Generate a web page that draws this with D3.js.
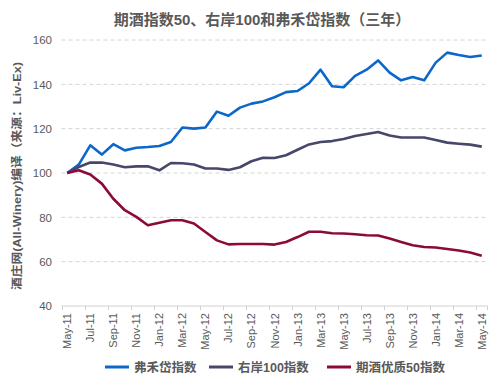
<!DOCTYPE html>
<html>
<head>
<meta charset="utf-8">
<script src="https://cdn.jsdelivr.net/npm/d3@7"></script>
<style>
  body { margin: 0; background: #fff; }
  text { font-family: "Liberation Sans", "Noto Sans CJK SC", sans-serif; }
</style>
</head>
<body>
<div id="chart"></div>
<script>
// months (category axis), one point per month
var months = ["May-11","Jun-11","Jul-11","Aug-11","Sep-11","Oct-11","Nov-11","Dec-11",
  "Jan-12","Feb-12","Mar-12","Apr-12","May-12","Jun-12","Jul-12","Aug-12","Sep-12","Oct-12","Nov-12","Dec-12",
  "Jan-13","Feb-13","Mar-13","Apr-13","May-13","Jun-13","Jul-13","Aug-13","Sep-13","Oct-13","Nov-13","Dec-13",
  "Jan-14","Feb-14","Mar-14","Apr-14","May-14"];

var bordeauxRegional = [100,103.8,112.5,108.3,113,110.2,111.4,111.7,112.2,114,120.5,120,120.5,127.7,125.8,129.5,131.3,132.3,134.2,
  136.5,137,140.5,146.6,139.1,138.7,143.8,146.6,150.8,145.3,141.8,143.3,141.8,149.8,154.3,153.2,152.3,153];
var rightBank100 = [100,102.7,104.7,104.7,103.8,102.6,103,103,101.2,104.5,104.4,103.8,102,102,101.4,102.6,105.3,106.9,106.8,
  108,110.5,112.9,114,114.4,115.3,116.7,117.6,118.5,116.9,116,116,116,114.9,113.7,113.2,112.8,111.9];
var fineWine50 = [100,101.2,99.3,95.2,88.4,83.2,80.2,76.4,77.6,78.7,78.7,77.2,73.4,69.6,67.8,68,68,68,67.7,
  68.9,71.1,73.5,73.5,72.8,72.7,72.4,71.9,71.8,70.5,68.9,67.4,66.6,66.4,65.7,65,64.1,62.7];

var seriesNames = ["弗禾岱指数", "右岸100指数", "期酒优质50指数"];
var seriesColors = ["#0b67c9", "#46476b", "#8c0a3b"];
var yTicks = [40, 60, 80, 100, 120, 140, 160];

var title = "期酒指数50、右岸100和弗禾岱指数（三年）";
var yTitle = "酒庄网(All-Winery)编译（来源：Liv-Ex)";

var W = 500, H = 384;
var svg = d3.select("#chart").append("svg")
  .attr("width", W).attr("height", H);

var x = d3.scaleBand().domain(months).range([61.5, 487.5]);
var y = d3.scaleLinear().domain([40, 160]).range([306, 40]);
var cx = function(i) { return x(months[i]) + x.bandwidth() / 2; };

// title
svg.append("text")
  .attr("x", 262).attr("y", 25)
  .attr("text-anchor", "middle")
  .style("font-size", "15px").style("font-weight", "bold")
  .attr("fill", "#595959")
  .text(title);

// y axis title
svg.append("text")
  .attr("transform", "translate(21,176) rotate(-90)")
  .attr("text-anchor", "middle")
  .attr("textLength", 228)
  .attr("lengthAdjust", "spacingAndGlyphs")
  .style("font-size", "11.5px").style("font-weight", "bold")
  .attr("fill", "#595959")
  .text(yTitle);

// gridlines
svg.append("g").selectAll("line")
  .data(yTicks.filter(function(d) { return d > 40; }))
  .enter().append("line")
  .attr("x1", 61.5).attr("x2", 487.5)
  .attr("y1", function(d) { return y(d); }).attr("y2", function(d) { return y(d); })
  .attr("stroke", "#d4d4d4").attr("stroke-dasharray", "4,3").attr("stroke-width", 1);

// y tick labels
svg.append("g")
  .attr("transform", "translate(56,0)")
  .call(d3.axisLeft(y).tickValues(yTicks).tickSize(0).tickPadding(4))
  .call(function(g) { g.select(".domain").remove(); })
  .selectAll("text")
  .style("font-size", "11.5px")
  .attr("fill", "#595959");

// x axis: line + ticks at category boundaries every 2 months
var xAxis = svg.append("g").attr("transform", "translate(0,306)");
xAxis.append("line")
  .attr("x1", 61.5).attr("x2", 487.5)
  .attr("stroke", "#d0d0d0");
xAxis.selectAll(".tk")
  .data(months.filter(function(d, i) { return i % 2 == 0; }))
  .enter().append("line")
  .attr("x1", function(d) { return Math.round(x(d)) + 0.5; })
  .attr("x2", function(d) { return Math.round(x(d)) + 0.5; })
  .attr("y1", 0).attr("y2", 4)
  .attr("stroke", "#d0d0d0");
xAxis.append("line")
  .attr("x1", 487.5).attr("x2", 487.5).attr("y1", 0).attr("y2", 4)
  .attr("stroke", "#d0d0d0");
xAxis.selectAll(".lbl")
  .data(months.filter(function(d, i) { return i % 2 == 0; }))
  .enter().append("text")
  .attr("transform", function(d) {
    return "translate(" + (x(d) + x.bandwidth() / 2 + 4) + ",7) rotate(-90)";
  })
  .attr("text-anchor", "end")
  .style("font-size", "11px")
  .attr("fill", "#595959")
  .text(function(d) { return d; });

// lines
var line = d3.line()
  .x(function(d, i) { return cx(i); })
  .y(function(d) { return y(d); });

[bordeauxRegional, rightBank100, fineWine50].forEach(function(s, k) {
  svg.append("path")
    .datum(s)
    .attr("fill", "none")
    .attr("stroke", seriesColors[k])
    .attr("stroke-width", 2.6)
    .attr("stroke-linejoin", "round")
    .attr("d", line);
});

// legend
var legendX = [105, 209, 327];
var lg = svg.append("g").attr("transform", "translate(0,367)");
seriesNames.forEach(function(n, k) {
  lg.append("line")
    .attr("x1", legendX[k]).attr("x2", legendX[k] + 24)
    .attr("stroke", seriesColors[k]).attr("stroke-width", 3);
  lg.append("text")
    .attr("x", legendX[k] + 29).attr("y", 4.5)
    .style("font-size", "12.5px").style("font-weight", "bold")
    .attr("fill", "#595959")
    .text(n);
});
</script>
</body>
</html>
